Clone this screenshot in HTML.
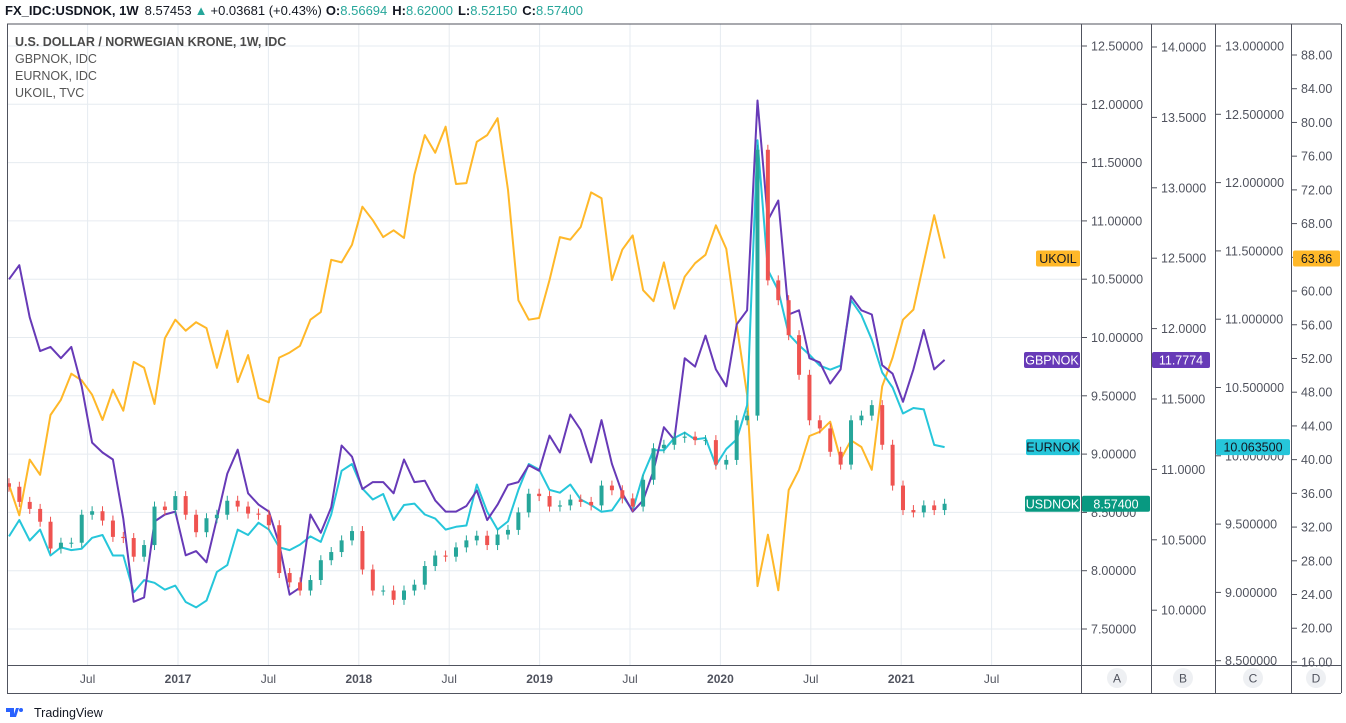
<!DOCTYPE html>
<html><head><meta charset="utf-8">
<style>
html,body{margin:0;padding:0;background:#fff;width:1346px;height:723px;overflow:hidden}
svg{display:block;font-family:"Liberation Sans",sans-serif}
</style></head>
<body>
<svg id="chart" width="1346" height="723" viewBox="0 0 1346 723">
  <g id="grid"></g>
  <g id="plot"></g>
  <g id="frame">
    <line x1="7" y1="24" x2="1341" y2="24" stroke="#50535e" stroke-width="1"/>
    <line x1="7.5" y1="24" x2="7.5" y2="693" stroke="#50535e"/>
    <line x1="1081.5" y1="24" x2="1081.5" y2="693" stroke="#50535e"/>
    <line x1="1151.5" y1="24" x2="1151.5" y2="693" stroke="#50535e"/>
    <line x1="1215.5" y1="24" x2="1215.5" y2="693" stroke="#50535e"/>
    <line x1="1291.5" y1="24" x2="1291.5" y2="693" stroke="#50535e"/>
    <line x1="1341.5" y1="24" x2="1341.5" y2="693" stroke="#50535e"/>
    <line x1="7" y1="665.5" x2="1341" y2="665.5" stroke="#50535e"/>
    <line x1="7" y1="693.5" x2="1341" y2="693.5" stroke="#50535e"/>
  </g>
  <g id="axes"></g>
  <g id="header">
    <text x="5" y="15" font-size="13" fill="#131722"><tspan font-weight="bold">FX_IDC:USDNOK, 1W</tspan><tspan dx="6">8.57453</tspan><tspan fill="#26a69a" dx="3">▲</tspan><tspan dx="3">+0.03681 (+0.43%)</tspan><tspan dx="4" font-weight="bold">O:</tspan><tspan fill="#26a69a">8.56694</tspan><tspan dx="5" font-weight="bold">H:</tspan><tspan fill="#26a69a">8.62000</tspan><tspan dx="5" font-weight="bold">L:</tspan><tspan fill="#26a69a">8.52150</tspan><tspan dx="5" font-weight="bold">C:</tspan><tspan fill="#26a69a">8.57400</tspan></text>
  </g>
  <g id="legend" font-size="12.5" fill="#555">
    <text x="15" y="46" font-weight="bold" fill="#4a4a4a">U.S. DOLLAR / NORWEGIAN KRONE, 1W, IDC</text>
    <text x="15" y="63">GBPNOK, IDC</text>
    <text x="15" y="80">EURNOK, IDC</text>
    <text x="15" y="97">UKOIL, TVC</text>
  </g>
  <g id="footer">
    <path d="M6 708 h8 v9 h-4 v-5 h-4z M16 708 l3 0 -3 9 h-3z" fill="#2962ff"/>
    <circle cx="21" cy="710" r="2" fill="#2962ff"/>
    <text x="34" y="717" font-size="12.5" fill="#131722">TradingView</text>
  </g>
</svg>
<script>
// ---- data (3-week steps starting early Jan 2016) ----
const startYear = 2016.065;
const stepYears = 0.0575;
const usdClose = [8.72,8.59,8.53,8.42,8.19,8.24,8.24,8.48,8.51,8.43,8.29,8.28,8.12,8.22,8.55,8.52,8.64,8.48,8.33,8.45,8.48,8.60,8.55,8.49,8.48,8.39,7.98,7.90,7.83,7.92,8.09,8.16,8.26,8.34,8.01,7.83,7.83,7.75,7.83,7.88,8.04,8.13,8.12,8.20,8.26,8.30,8.22,8.31,8.35,8.50,8.66,8.64,8.55,8.56,8.61,8.59,8.56,8.73,8.69,8.62,8.55,8.78,9.05,9.08,9.14,9.15,9.12,9.12,8.91,8.95,9.29,9.33,11.61,10.49,10.32,10.02,9.68,9.29,9.22,9.02,8.91,9.29,9.33,9.42,9.08,8.73,8.52,8.50,8.56,8.52,8.574];
const gbpnok = [12.35,12.45,12.08,11.84,11.87,11.79,11.87,11.59,11.19,11.12,11.07,10.65,10.06,10.09,10.63,10.68,10.70,10.39,10.42,10.34,10.65,10.97,11.14,10.83,10.75,10.70,10.47,10.11,10.16,10.68,10.55,10.73,11.17,11.09,10.86,10.91,10.91,10.83,11.07,10.91,10.92,10.78,10.70,10.70,10.74,10.85,10.64,10.75,10.89,10.91,11.03,10.99,11.24,11.12,11.39,11.28,11.05,11.35,11.04,10.83,10.70,10.78,10.99,11.30,11.21,11.79,11.73,11.95,11.71,11.59,12.03,12.13,13.62,12.77,12.91,12.10,12.13,11.79,11.76,11.61,11.71,12.23,12.13,12.10,11.74,11.68,11.48,11.71,11.99,11.71,11.7774];
const eurnok = [9.41,9.53,9.38,9.46,9.27,9.33,9.31,9.32,9.40,9.42,9.27,9.27,9.00,9.09,9.07,9.02,9.05,8.93,8.89,8.94,9.15,9.20,9.46,9.42,9.51,9.46,9.33,9.31,9.35,9.41,9.37,9.57,9.89,9.94,9.76,9.68,9.72,9.53,9.64,9.65,9.57,9.54,9.46,9.48,9.49,9.79,9.59,9.46,9.52,9.75,9.94,9.90,9.75,9.73,9.79,9.68,9.64,9.59,9.60,9.71,9.60,9.86,10.04,10.04,10.13,10.17,10.12,10.13,9.93,10.05,10.12,10.37,12.31,11.36,11.21,10.89,10.81,10.74,10.66,10.63,10.66,11.14,11.03,10.85,10.61,10.50,10.31,10.35,10.34,10.08,10.0635];
const ukoil = [37.0,33.4,40.0,38.2,45.3,47.1,50.2,49.4,47.7,44.7,48.3,45.8,51.6,50.9,46.6,54.4,56.6,55.3,56.3,55.6,50.9,55.3,49.2,52.4,47.3,46.8,52.1,52.7,53.5,56.6,57.5,63.7,63.4,65.5,70.0,68.4,66.4,67.2,66.3,73.8,78.5,76.4,79.5,72.7,72.8,77.7,78.5,80.5,72.0,58.9,56.6,56.8,61.3,66.4,66.1,67.6,71.7,71.0,61.3,64.9,66.6,60.1,58.8,63.4,57.9,61.7,63.3,64.3,67.8,65.0,56.0,47.7,25.0,31.1,24.5,36.4,38.8,42.8,43.3,44.5,40.0,42.3,41.5,38.8,48.7,52.1,56.6,57.8,63.4,69.0,63.86];
const aTicks = [12.5,12.0,11.5,11.0,10.5,10.0,9.5,9.0,8.5,8.0,7.5];
const bTicks = [14.0,13.5,13.0,12.5,12.0,11.5,11.0,10.5,10.0];
const cTicks = [13.0,12.5,12.0,11.5,11.0,10.5,10.0,9.5,9.0,8.5];
const dTicks = [88,84,80,76,72,68,64,60,56,52,48,44,40,36,32,28,24,20,16];
const timeTicks = [2016.5,2017,2017.5,2018,2018.5,2019,2019.5,2020,2020.5,2021,2021.5];
const timeLabels = ["Jul","2017","Jul","2018","Jul","2019","Jul","2020","Jul","2021","Jul"];

// ---- scales ----
const xT = t => 178 + (t - 2017) * 180.8;
const xI = i => xT(startYear + i * stepYears);
const yA = v => 46 + (12.5 - v) * 116.6;
const yB = v => 47 + (14 - v) * 140.8;
const yC = v => 46 + (13 - v) * 136.6;
const yD = v => 55 + (88 - v) * 8.43;

const NS = "http://www.w3.org/2000/svg";
function mk(tag, attrs, parent){const e=document.createElementNS(NS,tag);for(const k in attrs)e.setAttribute(k,attrs[k]);parent.appendChild(e);return e;}
const grid=document.getElementById('grid'), plot=document.getElementById('plot'), axes=document.getElementById('axes');

// grid
aTicks.forEach(v=>{const l=mk('line',{x1:8,x2:1081,y1:yA(v),y2:yA(v),stroke:'#e6ebf0'},grid);

});
timeTicks.forEach(t=>{const l=mk('line',{x1:xT(t),x2:xT(t),y1:24,y2:665,stroke:'#e6ebf0'},grid);

});

// lines
function line(arr, ys, color, name){
  const d=arr.map((v,i)=>(i?'L':'M')+xI(i).toFixed(1)+' '+ys(v).toFixed(1)).join(' ');
  const p=mk('path',{d:d,fill:'none',stroke:color,'stroke-width':2,'stroke-linejoin':'round'},plot);
  
  
}
line(ukoil,yD,'#ffb829','ukoil-line');
line(eurnok,yC,'#26c6da','eurnok-line');
line(gbpnok,yB,'#673ab7','gbpnok-line');

// candles
usdClose.forEach((c,i)=>{
  const o = i? usdClose[i-1] : c+0.03;
  const up = c>=o, col = up?'#26a69a':'#ef5350';
  const x=xI(i), y1=yA(Math.max(o,c)), y2=yA(Math.min(o,c));
  const g=mk('g',{},plot);
  
  
  mk('line',{x1:x,x2:x,y1:y1-5,y2:y2+5,stroke:col,'stroke-width':1},g);
  mk('rect',{x:x-2,y:y1,width:4,height:Math.max(1,y2-y1),fill:col},g);
});

// axis ticks
function axisTicks(ticks, ys, x0, fmt, name){
  ticks.forEach(v=>{
    const y=ys(v);
    mk('line',{x1:x0,x2:x0+5,y1:y,y2:y,stroke:'#50535e'},axes);
    const t=mk('text',{x:x0+9,y:y+4.5,'font-size':12.5,fill:'#50535e'},axes);
    t.textContent=fmt(v);
    
    
  });
}
axisTicks(aTicks,yA,1082,v=>v.toFixed(5),'axis-a-tick');
axisTicks(bTicks,yB,1152,v=>v.toFixed(4),'axis-b-tick');
axisTicks(cTicks,yC,1216,v=>v.toFixed(6),'axis-c-tick');
axisTicks(dTicks.filter(v=>yD(v)<663),yD,1292,v=>v.toFixed(2),'axis-d-tick');

timeTicks.forEach((t,i)=>{
  const tx=mk('text',{x:xT(t),y:683,'font-size':12,fill:'#50535e','text-anchor':'middle','font-weight':/^\d/.test(timeLabels[i])?'bold':'normal'},axes);
  tx.textContent=timeLabels[i];
  
  
});

// axis letter buttons
[['A',1117],['B',1183],['C',1253],['D',1316]].forEach(([s,x])=>{
  const g=mk('g',{},axes);
  
  
  mk('circle',{cx:x,cy:678,r:10,fill:'#eef0f3'},g);
  const t=mk('text',{x:x,y:682.5,'font-size':12,fill:'#50535e','text-anchor':'middle'},g);
  t.textContent=s;
});

// price labels
function badge(x,y,w,text,bg,fg,name){
  const g=mk('g',{},axes);
  
  
  mk('rect',{x:x,y:y-8,width:w,height:16,rx:2,fill:bg},g);
  const t=mk('text',{x:x+w/2,y:y+4.5,'font-size':12.5,fill:fg,'text-anchor':'middle'},g);
  t.textContent=text;
}
const last=usdClose.length-1;
badge(1036,yD(ukoil[last]),44,'UKOIL','#ffb829','#131722','ukoil-series-label');
badge(1293,yD(ukoil[last]),47,ukoil[last].toFixed(2),'#ffb829','#131722','ukoil-price-label');
badge(1024,yB(gbpnok[last]),56,'GBPNOK','#673ab7','#fff','gbpnok-series-label');
badge(1152,yB(gbpnok[last]),58,gbpnok[last].toFixed(4),'#673ab7','#fff','gbpnok-price-label');
badge(1026,yC(eurnok[last]),54,'EURNOK','#26c6da','#131722','eurnok-series-label');
badge(1216,yC(eurnok[last]),74,eurnok[last].toFixed(6),'#26c6da','#131722','eurnok-price-label');
badge(1025,yA(usdClose[last]),55,'USDNOK','#089981','#fff','usdnok-series-label');
badge(1082,yA(usdClose[last]),68,usdClose[last].toFixed(5),'#089981','#fff','usdnok-price-label');
</script>
</body></html>
